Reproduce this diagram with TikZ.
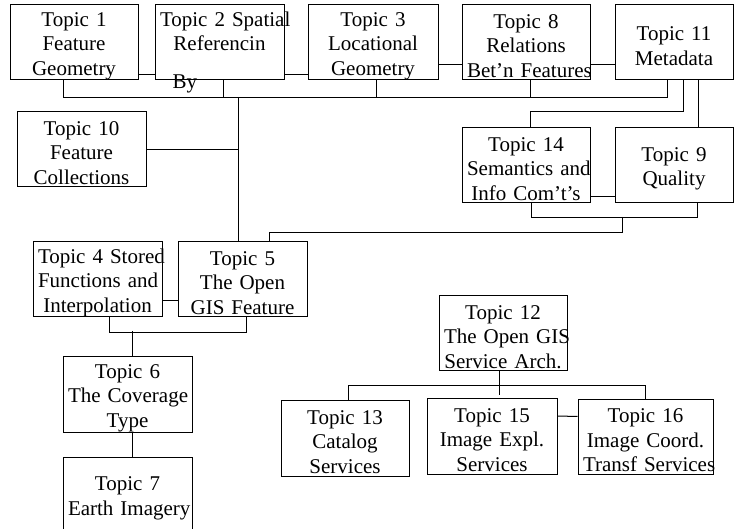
\documentclass[tikz,border=0pt]{standalone}
\usepackage{fontspec}
\setmainfont{Liberation Serif}

\newcommand{\topicfont}{\fontsize{21}{24.5}\selectfont\hyphenpenalty=10000\exhyphenpenalty=10000}

\begin{document}
\begin{tikzpicture}[x=1pt,y=-1pt,line width=1pt]
    \tikzstyle{topic}=[draw,minimum height=75pt,inner xsep=5pt,inner ysep=0pt,align=center,font=\topicfont,execute at begin node=\rule{0pt}{21pt}]
    \useasboundingbox (0,0) rectangle (734,529);

    % top row
    \node[topic,text width=118pt] (geom)    at (74,42.5)    {Topic~1\\Feature\\Geometry};
    \node[topic,text width=119pt] (spatial) at (219.5,42.5) {Topic~2~Spatial\\Referencin\\\vphantom{y}};
    \node[anchor=base west,font=\topicfont,inner sep=0pt] (spatialby) at (172,89) {By};
    \node[topic,text width=120pt] (locgeom) at (373,42.5)   {Topic~3\\Locational\\Geometry};
    \node[topic,text width=118pt] (relat)   at (526,42.5)   {Topic~8\\Relations\\Bet'n~Features};
    \node[topic,text width=108pt] (meta)    at (674,42.5)   {Topic~11\\Metadata};

    % middle
    \node[topic,text width=119pt] (collect) at (81.5,149.5) {Topic~10\\Feature\\Collections};
    \node[topic,text width=118pt] (semant)  at (526,165.5)  {Topic~14\\Semantics~and\\Info~Com't's};
    \node[topic,text width=108pt] (qual)    at (674,165.5)  {Topic~9\\Quality};
    \node[topic,text width=119pt] (stored)  at (97.5,279.5) {Topic~4~Stored\\Functions~and\\Interpolation};
    \node[topic,text width=119pt] (feature) at (242.5,279.5) {Topic~5\\The~Open\\GIS~Feature};
    \node[topic,text width=119pt] (cover)   at (127.5,394.5) {Topic~6\\The~Coverage\\Type};
    \node[topic,text width=119pt,minimum height=76pt] (imagery) at (127.5,495) {Topic~7\\Earth~Imagery};

    % services
    \node[topic,text width=118pt] (servarch) at (503,333.5) {Topic~12\\The~Open~GIS\\Service~Arch.};
    \node[topic,text width=118pt] (catalog)  at (345,438.5) {Topic~13\\Catalog\\Services};
    \node[topic,text width=120pt] (explo)    at (492,436.5) {Topic~15\\Image~Expl.\\Services};
    \node[topic,text width=125pt] (coordtr)  at (645.5,437) {Topic~16\\Image~Coord.\\Transf~Services};

    \coordinate (bus1) at (238,97);
    \coordinate (bus2) at (622,217);

    % top row links
    \draw ([yshift=-32.5pt]geom.east) -- ([yshift=-32.5pt]spatial.west);
    \draw ([yshift=-32.5pt]spatial.east) -- ([yshift=-32.5pt]locgeom.west);
    \draw ([yshift=-22.5pt]locgeom.east) -- ([yshift=-22.5pt]relat.west);
    \draw ([yshift=-22.5pt]relat.east) -- ([yshift=-22.5pt]meta.west);
    \draw ([xshift=-11pt]geom.south) -- ++(0,17) -| ([xshift=-7pt]meta.south);
    \draw ([xshift=3.5pt]spatial.south) -- ++(0,17);
    \draw ([xshift=3pt]locgeom.south) -- ++(0,17);
    \draw ([xshift=4pt]relat.south) -- ++(0,17);
    \draw (bus1) -- (bus1 |- feature.north);
    \draw (collect.east) -- (collect.east -| bus1);

    % metadata branch
    \draw ([xshift=9pt]meta.south) -- ++(0,31) -| ([xshift=4pt]semant.north);
    \draw ([xshift=24pt]meta.south) -- ([xshift=24pt]qual.north);
    \draw ([yshift=-31.5pt]semant.east) -- ([yshift=-31.5pt]qual.west);
    \draw ([xshift=5pt]semant.south) -- ++(0,14) -| ([xshift=23pt]qual.south);
    \draw (bus2) -- ++(0,16) -| ([xshift=26.5pt]feature.north);

    % feature branch
    \draw ([yshift=-21.5pt]stored.east) -- ([yshift=-21.5pt]feature.west);
    \draw ([xshift=11.5pt]stored.south) -- ++(0,15) -| ([xshift=3.5pt]feature.south);
    \draw ([xshift=4.5pt]cover.north) -- ++(0,-25);
    \draw ([xshift=4.5pt]cover.south) -- ([xshift=4.5pt]imagery.north);

    % service branch
    \draw ([xshift=-4pt]servarch.south) -- ++(0,24);
    \draw ([xshift=3pt]catalog.north) -- ++(0,-15) -| (coordtr.north);
    \draw ([yshift=20.5pt]explo.east) -- ([yshift=20.5pt]coordtr.west);
\end{tikzpicture}
\end{document}
